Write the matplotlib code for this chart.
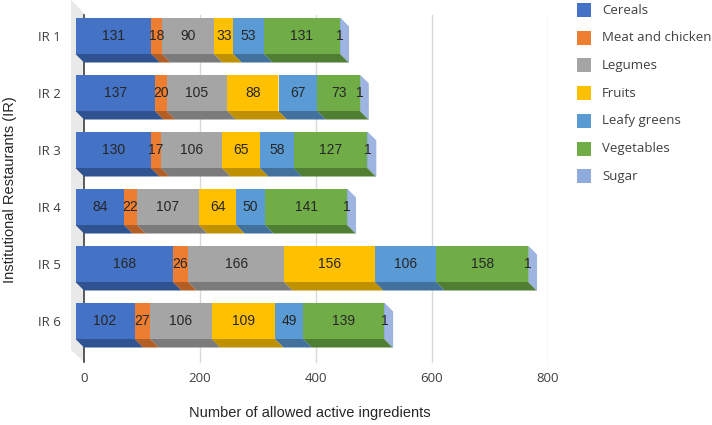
import numpy as np
import matplotlib
matplotlib.use('Agg')
import matplotlib.pyplot as plt
from matplotlib.patches import Polygon, Rectangle

# data
restaurants = ['IR 1', 'IR 2', 'IR 3', 'IR 4', 'IR 5', 'IR 6']
groups = ['Cereals', 'Meat and chicken', 'Legumes', 'Fruits', 'Leafy greens', 'Vegetables', 'Sugar']
cereals = [131, 137, 130, 84, 168, 102]
meat = [18, 20, 17, 22, 26, 27]
legumes = [90, 105, 106, 107, 166, 106]
fruits = [33, 88, 65, 64, 156, 109]
leafy = [53, 67, 58, 50, 106, 49]
vegetables = [131, 73, 127, 141, 158, 139]
sugar = [1, 1, 1, 1, 1, 1]

series = [cereals, meat, legumes, fruits, leafy, vegetables, sugar]
front_cols = ['#4472C4', '#ED7D31', '#A5A5A5', '#FFC000', '#5B9BD5', '#70AD47', '#8FAADC']
dark_cols = ['#2F5291', '#B25E24', '#7B7B7B', '#BF9000', '#41719C', '#507E32', '#6B80A5']
side_cols = ['#5B82CC', '#F09050', '#B5B5B5', '#FFCB33', '#72AADB', '#86BA62', '#9DB5E0']

W, H = 712, 425
fig = plt.figure(figsize=(W / 100, H / 100), dpi=100)

# axes placed in pixels: x=0 at px 84, x=800 at px 548
px_per_x = (548 - 84) / 800
px_per_y = 57.0
ax_left, ax_right, ax_top, ax_bot = 66, 548, 0, 365
ax = fig.add_axes([ax_left / W, 1 - ax_bot / H, (ax_right - ax_left) / W, (ax_bot - ax_top) / H])
ax.set_xlim((ax_left - 84) / px_per_x, 800)
ax.set_ylim((ax_bot - 36) / px_per_y, (ax_top - 36) / px_per_y)

def xu(px):
    return px / px_per_x

def yu(px):
    return px / px_per_y

d = 8.5           # 3d depth, px
bar_h = yu(36)    # front face height
dx, dy = xu(d), yu(d)

# left side wall
wall = Polygon([(xu(71 - 84), yu(0 - 36)), (0, yu(13 - 36)), (0, yu(362 - 36)), (xu(71 - 84), yu(350 - 36))],
               closed=True, facecolor='#E9E9E9', edgecolor='none', zorder=0)
ax.add_patch(wall)

# gridlines and zero axis on the back plane
for gx in [200, 400, 600, 800]:
    ax.plot([gx, gx], [yu(15 - 36), yu(362 - 36)], color='#D9D9D9', lw=1, zorder=1)
ax.plot([0, 0], [yu(15 - 36), yu(362 - 36)], color='#404040', lw=1.2, zorder=1)

ypos = np.arange(len(restaurants))
left = np.zeros(len(restaurants))
z = 3
for k, vals in enumerate(series):
    vals = np.array(vals, dtype=float)
    fl = left - dx
    for i in range(len(restaurants)):
        x0, x1 = fl[i], fl[i] + vals[i]
        yt, yb = ypos[i] - bar_h / 2, ypos[i] + bar_h / 2
        bottom = Polygon([(x0, yb), (x1, yb), (x1 + dx, yb + dy), (x0 + dx, yb + dy)],
                         closed=True, facecolor=dark_cols[k], edgecolor='none', zorder=z)
        side = Polygon([(x1, yt), (x1 + dx, yt + dy), (x1 + dx, yb + dy), (x1, yb)],
                       closed=True, facecolor=side_cols[k], edgecolor='none', zorder=z)
        ax.add_patch(bottom)
        ax.add_patch(side)
    ax.barh(ypos, vals, left=fl, height=bar_h, color=front_cols[k], edgecolor='none', zorder=z + 1)
    for i in range(len(restaurants)):
        ax.text(fl[i] + vals[i] / 2, ypos[i], str(int(vals[i])), ha='center', va='center',
                fontsize=10, color='#262626', family='Liberation Sans', zorder=50)
    left = left + vals
    z += 2

for s in ax.spines.values():
    s.set_visible(False)
ax.set_yticks(ypos)
ax.set_yticklabels(restaurants)
ax.set_xticks([0, 200, 400, 600, 800])
ax.tick_params(axis='both', length=0, labelsize=9.5, labelcolor='#404040')
ax.tick_params(axis='y', pad=4)
ax.tick_params(axis='x', pad=5)
for lab in ax.get_xticklabels() + ax.get_yticklabels():
    lab.set_family('Open Sans')

fig.text(310 / W, 1 - 413 / H, 'Number of allowed active ingredients', ha='center', va='center',
         fontsize=10.5, color='#262626', family='Liberation Sans')
fig.text(10 / W, 1 - 190 / H, 'Institutional Restaurants (IR)', ha='center', va='center',
         rotation=90, fontsize=10.5, color='#262626', family='Liberation Sans')

# legend
for k, name in enumerate(groups):
    cy = 10 + 27.7 * k
    fig.add_artist(Rectangle((577 / W, 1 - (cy + 7) / H), 14 / W, 14 / H,
                             facecolor=front_cols[k], edgecolor='none', transform=fig.transFigure))
    fig.text(602 / W, 1 - cy / H, name, ha='left', va='center', fontsize=9.5,
             color='#404040', family='Open Sans')

fig.savefig('out.png', dpi=100)
